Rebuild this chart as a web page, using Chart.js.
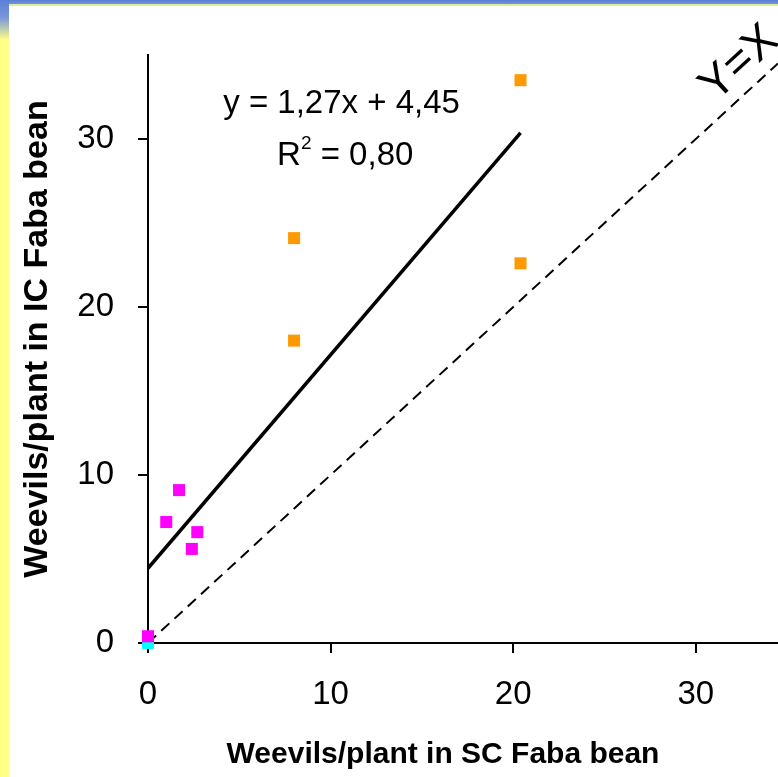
<!DOCTYPE html>
<html>
<head>
<meta charset="utf-8">
<script src="https://cdn.jsdelivr.net/npm/chart.js@4.4.1/dist/chart.umd.min.js"></script>
<style>
  html, body { margin: 0; padding: 0; }
  body { width: 778px; height: 777px; position: relative; overflow: hidden; background: #ffff88; }
  #band { position: absolute; left: 0; top: 0; width: 778px; height: 6px;
          background: linear-gradient(to bottom, #5b7ed6 0px, #7393dc 4px, #d9ee9c 4px, #d9ee9c 6px); }
  #corner { position: absolute; left: 0; top: 0; width: 9px; height: 40px;
            background: linear-gradient(to bottom, #5b7ed6 0px, #7c98d8 18px, #ffff88 40px); }
  #sheet { position: absolute; left: 9px; top: 6px; right: 0; bottom: 0; background: #fff; }
  #chartCanvas { position: absolute; left: 0; top: 0; }
</style>
</head>
<body>
<div id="band"></div>
<div id="corner"></div>
<div id="sheet"></div>
<canvas id="chartCanvas" width="778" height="777"></canvas>
<script>
// Weevils per plant: intercropped (IC) vs sole crop (SC) faba bean
const orangeX = [20.4, 8.0, 8.0, 20.4];
const orangeY = [33.5, 24.1, 18.0, 22.6];
const pinkX = [1.0, 1.7, 2.7, 2.4, 0.0];
const pinkY = [7.2, 9.1, 6.6, 5.6, 0.4];
const cyanX = [0.0];
const cyanY = [0.0];

// Linear fit shown on the chart
const fitSlope = 1.27;
const fitIntercept = 4.45;
const fitR2 = 0.80;
const fitRange = [0, 20.4];
const identityRange = [0, 34.5];

const xTicks = [0, 10, 20, 30];
const yTicks = [0, 10, 20, 30];

const xTitle = 'Weevils/plant in SC Faba bean';
const yTitle = 'Weevils/plant in IC Faba bean';

const family = '"Liberation Sans", Arial, sans-serif';

function toPoints(xs, ys) {
    return xs.map((v, i) => ({ x: v, y: ys[i] }));
}

function comma(v) {
    return v.toFixed(2).replace('.', ',');
}

// Axis titles, equation, R² and the Y=X label
const textLabels = {
    id: 'textLabels',
    afterDatasetsDraw(chart) {
        const { ctx, chartArea, scales: { x, y } } = chart;
        ctx.save();
        ctx.fillStyle = '#000';

        // axis titles
        ctx.textAlign = 'center';
        ctx.textBaseline = 'middle';
        ctx.font = 'bold 30px ' + family;
        ctx.fillText(xTitle, chartArea.left + 295, chartArea.bottom + 112);
        ctx.save();
        ctx.translate(38, chartArea.top + 284);
        ctx.rotate(-Math.PI / 2);
        ctx.font = 'bold 34px ' + family;
        ctx.fillText(yTitle, 0, 0);
        ctx.restore();

        ctx.textBaseline = 'alphabetic';
        ctx.font = '33px ' + family;
        const eq = 'y = ' + comma(fitSlope) + 'x + ' + comma(fitIntercept);
        ctx.fillText(eq, x.getPixelForValue(10.6), y.getPixelForValue(31.55));

        // R² with a raised small 2
        const base = y.getPixelForValue(28.45);
        const cx = x.getPixelForValue(10.8);
        ctx.textAlign = 'left';
        const wR = ctx.measureText('R').width;
        const rest = ' = ' + comma(fitR2);
        const wRest = ctx.measureText(rest).width;
        ctx.font = '19px ' + family;
        const wSup = ctx.measureText('2').width;
        const left = cx - (wR + wSup + wRest) / 2;
        ctx.font = '33px ' + family;
        ctx.fillText('R', left, base);
        ctx.font = '19px ' + family;
        ctx.fillText('2', left + wR, base - 16);
        ctx.font = '33px ' + family;
        ctx.fillText(rest, left + wR + wSup, base);

        // Y=X along the dashed line
        const ang = Math.atan2(y.getPixelForValue(1) - y.getPixelForValue(0),
                               x.getPixelForValue(1) - x.getPixelForValue(0));
        ctx.translate(x.getPixelForValue(32.4), y.getPixelForValue(34.5));
        ctx.rotate(ang);
        ctx.font = '46px ' + family;
        ctx.textAlign = 'center';
        ctx.textBaseline = 'middle';
        ctx.fillText('Y=X', 0, 0);
        ctx.restore();
    }
};

const ctx = document.getElementById('chartCanvas').getContext('2d');
const chart = new Chart(ctx, {
    type: 'scatter',
    data: {
        datasets: [
            {
                data: toPoints(orangeX, orangeY),
                backgroundColor: '#ff9900',
                borderWidth: 0,
                pointStyle: 'rect',
                pointRadius: 8.5,
                clip: false,
                order: 0
            },
            {
                data: toPoints(pinkX, pinkY),
                backgroundColor: '#ff00ff',
                borderWidth: 0,
                pointStyle: 'rect',
                pointRadius: 8.5,
                clip: false,
                order: 1
            },
            {
                data: toPoints(cyanX, cyanY),
                backgroundColor: '#00ffff',
                borderWidth: 0,
                pointStyle: 'rect',
                pointRadius: 8.5,
                clip: false,
                order: 2
            },
            {
                // fitted line
                data: fitRange.map(v => ({ x: v, y: fitSlope * v + fitIntercept })),
                showLine: true,
                borderColor: '#000',
                borderWidth: 3.5,
                pointRadius: 0,
                order: 3
            },
            {
                // Y = X reference
                data: identityRange.map(v => ({ x: v, y: v })),
                showLine: true,
                borderColor: '#000',
                borderWidth: 2,
                borderDash: [11, 7],
                pointRadius: 0,
                clip: false,
                order: 4
            }
        ]
    },
    options: {
        responsive: false,
        animation: false,
        layout: { autoPadding: false, padding: { top: 55, left: 0, right: 0, bottom: 0 } },
        plugins: {
            legend: { display: false },
            tooltip: { enabled: false }
        },
        scales: {
            x: {
                type: 'linear',
                min: 0,
                max: 34.5,
                afterBuildTicks: s => { s.ticks = xTicks.map(v => ({ value: v })); },
                afterFit: s => { s.height = 134; s.paddingLeft = 0; s.paddingRight = 0; },
                border: { color: '#000', width: 2 },
                grid: { drawOnChartArea: false, color: '#000', lineWidth: 2, tickLength: 10 },
                ticks: { color: '#000', font: { family: family, size: 33 }, padding: 22, maxRotation: 0 }
            },
            y: {
                type: 'linear',
                min: 0,
                max: 35,
                afterBuildTicks: s => { s.ticks = yTicks.map(v => ({ value: v })); },
                afterFit: s => { s.width = 148; s.paddingTop = 0; s.paddingBottom = 0; },
                border: { color: '#000', width: 2 },
                grid: { drawOnChartArea: false, color: '#000', lineWidth: 2, tickLength: 10 },
                ticks: { color: '#000', font: { family: family, size: 33 }, padding: 24 }
            }
        }
    },
    plugins: [textLabels]
});
</script>
</body>
</html>
